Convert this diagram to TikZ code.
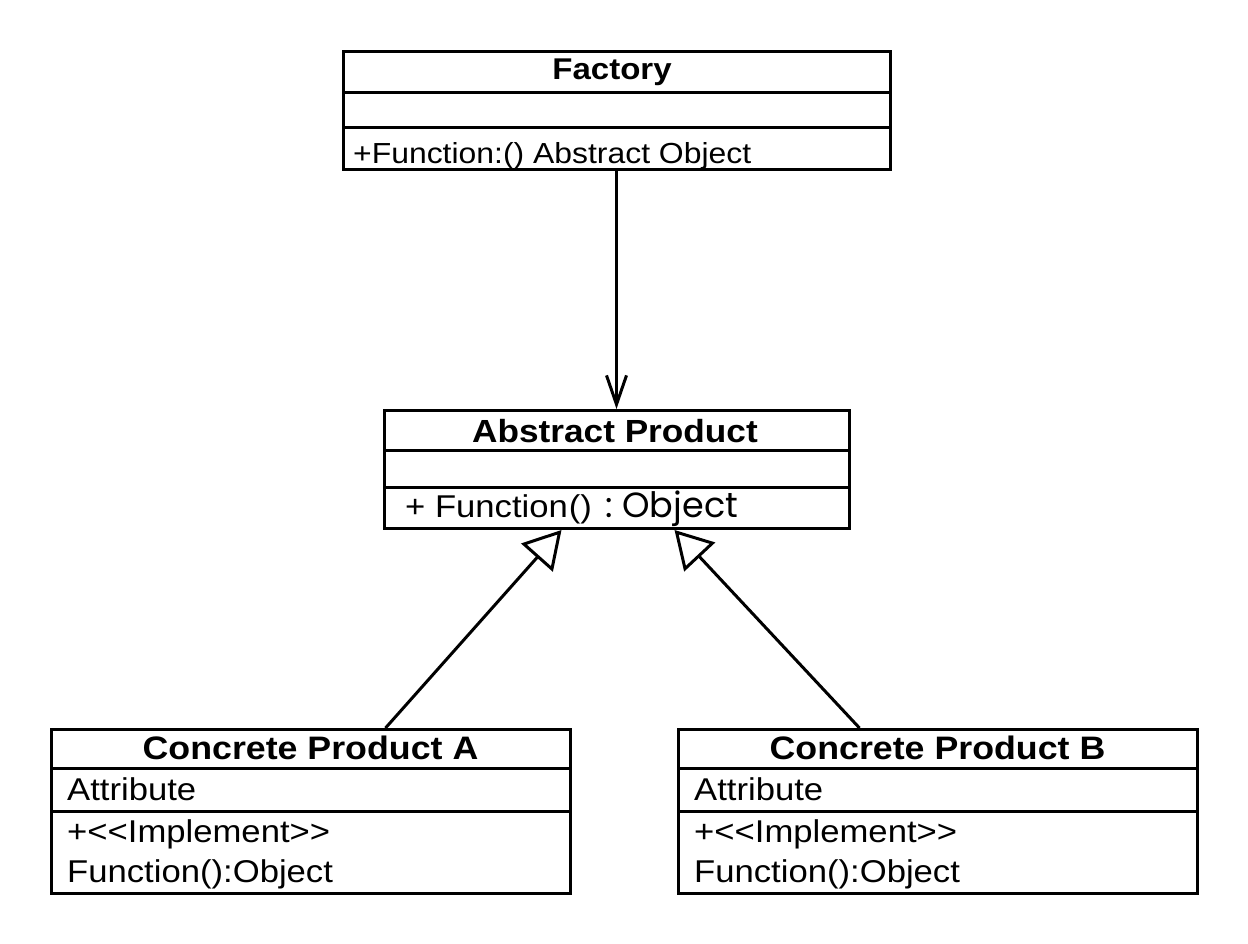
\documentclass[tikz,border=0pt]{standalone}
\usepackage{fontspec}
\setmainfont{Liberation Sans}[FakeStretch=1.1]
\newfontfamily\geofont{Poppins}
\usetikzlibrary{arrows.meta}
\tikzset{
  classbox/.style={draw, line width=3pt, inner sep=0pt, anchor=north west, fill=white},
  divider/.style={line width=3pt},
  ttl/.style={inner sep=0pt, anchor=base, font=\fontsize{32}{38}\selectfont\bfseries},
  txt/.style={inner sep=0pt, anchor=base west, font=\fontsize{31.5}{36}\selectfont},
  assoc/.style={line width=3pt, -{Straight Barb[length=29pt, width=20pt, line width=3pt]}},
  inherit/.style={line width=3pt, -{Triangle[open, length=37pt, width=42pt, line width=3pt, fill=white]}}
}
\begin{document}
\begin{tikzpicture}[x=1pt,y=-1pt]
\useasboundingbox[fill=white] (0,0) rectangle (1248,943);
% Factory
\node[classbox, minimum width=547pt, minimum height=118pt] (fac) at (342,50) {};
\draw[divider] ([yshift=-42pt]fac.north west) -- ([yshift=-42pt]fac.north east);
\draw[divider] ([yshift=-77pt]fac.north west) -- ([yshift=-77pt]fac.north east);
\node[ttl, font=\fontsize{30}{36}\selectfont\bfseries] (facT) at (612,79.5) {Factory};
\node[txt, font=\fontsize{29}{34}\selectfont] (facM) at (353,163.5) {+Function:() Abstract Object};
% Abstract Product
\node[classbox, minimum width=465pt, minimum height=118pt] (abs) at (383,409) {};
\draw[divider] ([yshift=-41pt]abs.north west) -- ([yshift=-41pt]abs.north east);
\draw[divider] ([yshift=-78pt]abs.north west) -- ([yshift=-78pt]abs.north east);
\node[ttl] (absT) at (615,442.5) {Abstract Product};
\node[txt, font=\fontsize{31.5}{36}\selectfont] (absM) at (405,517) {+ Function{\kern1pt}(){\kern13pt}{\geofont\fontsize{35}{38}\selectfont :\kern10pt{}Object}};
% Concrete A
\node[classbox, minimum width=519pt, minimum height=164pt] (ca) at (50,728) {};
\draw[divider] ([yshift=-40pt]ca.north west) -- ([yshift=-40pt]ca.north east);
\draw[divider] ([yshift=-83pt]ca.north west) -- ([yshift=-83pt]ca.north east);
\node[ttl, font=\fontsize{32.5}{38}\selectfont\bfseries] (caT) at (310.5,759) {Concrete Product A};
\node[txt] (caA) at (67,800) {Attribute};
\node[txt] (caM1) at (67,842) {+{<}{<}Implement{>}{>}};
\node[txt] (caM2) at (67,882) {Function():Object};
% Concrete B
\node[classbox, minimum width=519pt, minimum height=164pt] (cb) at (677,728) {};
\draw[divider] ([yshift=-40pt]cb.north west) -- ([yshift=-40pt]cb.north east);
\draw[divider] ([yshift=-83pt]cb.north west) -- ([yshift=-83pt]cb.north east);
\node[ttl, font=\fontsize{32.5}{38}\selectfont\bfseries] (cbT) at (937.5,759) {Concrete Product B};
\node[txt] (cbA) at (694,800) {Attribute};
\node[txt] (cbM1) at (694,842) {+{<}{<}Implement{>}{>}};
\node[txt] (cbM2) at (694,882) {Function():Object};
% connectors
\draw[assoc] ([xshift=-0.5pt]fac.south) -- ([xshift=-0.5pt]abs.north);
\draw[inherit] ([xshift=74.5pt]ca.north) -- ([xshift=-55.5pt]abs.south);
\draw[inherit] ([xshift=-78.5pt]cb.north) -- ([xshift=57.5pt]abs.south);
\end{tikzpicture}
\end{document}
